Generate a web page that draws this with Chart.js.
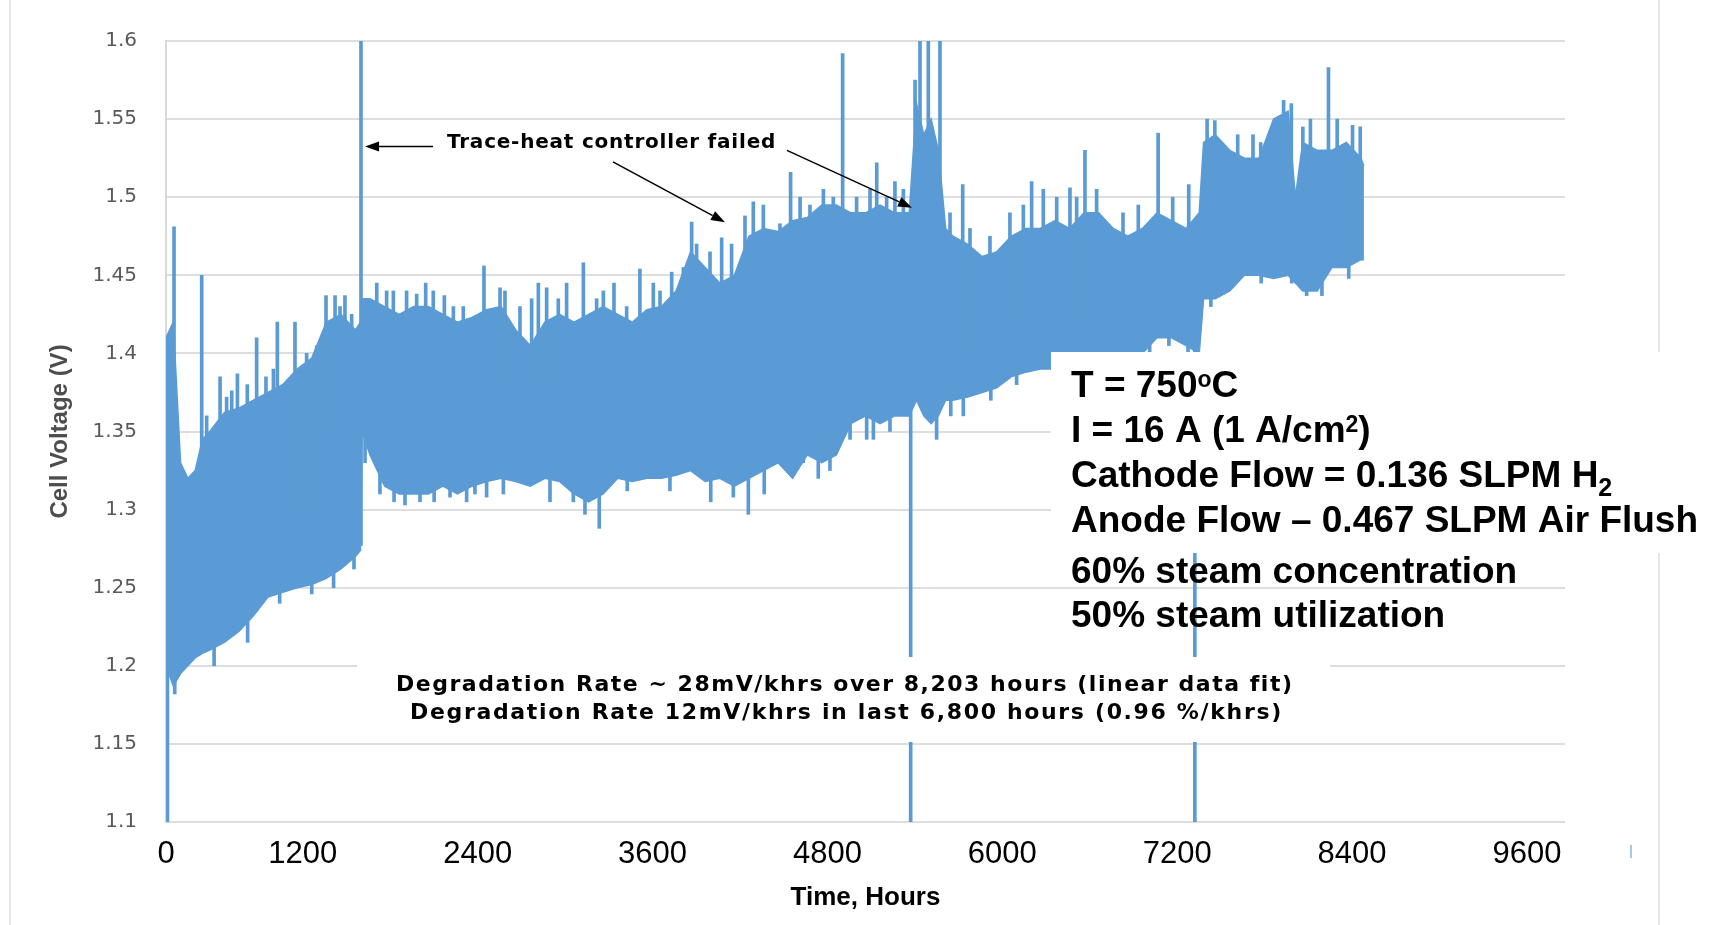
<!DOCTYPE html>
<html>
<head>
<meta charset="utf-8">
<title>Cell Voltage vs Time</title>
<script src="https://cdn.jsdelivr.net/npm/chart.js@4.4.1/dist/chart.umd.min.js"></script>
<style>
  html, body { margin: 0; padding: 0; background: #fff; }
  #wrap { width: 1715px; height: 925px; position: relative; }
</style>
</head>
<body>
<div id="wrap"><canvas id="voltage-chart"></canvas></div>
<script>
// ===== Data =====
// dense band of the voltage trace: upper and lower edge every ~100 h
const HOURS = [0, 50, 100, 150, 200, 250, 300, 400, 500, 600, 700, 800, 900, 1000, 1100, 1200, 1300, 1335, 1345,
  1400, 1500, 1600, 1700, 1800, 1900, 2000, 2100, 2200, 2300, 2400, 2500, 2600, 2700, 2800, 2900, 3000,
  3100, 3200, 3300, 3400, 3500, 3600, 3700, 3800, 3900, 4000, 4100, 4200, 4300, 4400, 4500, 4600, 4700,
  4800, 4900, 5000, 5100, 5150, 5200, 5250, 5300, 5350, 5400, 5500, 5600, 5700, 5800, 5900, 6000, 6100,
  6200, 6300, 6400, 6500, 6600, 6700, 6800, 6900, 7000, 7090, 7120, 7200, 7300, 7400, 7500, 7600, 7700,
  7750, 7800, 7900, 8000, 8100, 8200, 8220];
const V_HIGH = [1.41, 1.42, 1.33, 1.32, 1.325, 1.345, 1.35, 1.362, 1.365, 1.37, 1.375, 1.38, 1.39, 1.397, 1.42, 1.425, 1.415, 1.42, 1.435,
  1.435, 1.43, 1.425, 1.43, 1.43, 1.425, 1.42, 1.423, 1.428, 1.43, 1.415, 1.405, 1.42, 1.425, 1.42, 1.425, 1.43,
  1.425, 1.42, 1.428, 1.43, 1.44, 1.465, 1.455, 1.445, 1.45, 1.475, 1.48, 1.478, 1.485, 1.487, 1.495, 1.495, 1.49,
  1.49, 1.495, 1.49, 1.49, 1.56, 1.54, 1.55, 1.53, 1.48, 1.475, 1.47, 1.462, 1.465, 1.475, 1.48, 1.48, 1.485,
  1.48, 1.49, 1.49, 1.48, 1.475, 1.48, 1.49, 1.485, 1.48, 1.49, 1.535, 1.54, 1.53, 1.525, 1.525, 1.55, 1.555,
  1.50, 1.535, 1.53, 1.53, 1.535, 1.525, 1.52];
const V_LOW = [1.20, 1.187, 1.195, 1.20, 1.205, 1.208, 1.21, 1.215, 1.222, 1.232, 1.244, 1.247, 1.25, 1.252, 1.256, 1.262, 1.27, 1.274, 1.35,
  1.335, 1.315, 1.31, 1.31, 1.31, 1.315, 1.31, 1.315, 1.318, 1.32, 1.318, 1.315, 1.32, 1.318, 1.31, 1.305, 1.31,
  1.32, 1.318, 1.32, 1.32, 1.322, 1.325, 1.318, 1.32, 1.315, 1.32, 1.325, 1.33, 1.32, 1.335, 1.33, 1.335, 1.355,
  1.36, 1.355, 1.36, 1.36, 1.37, 1.36, 1.355, 1.36, 1.37, 1.37, 1.372, 1.375, 1.378, 1.385, 1.388, 1.39, 1.39,
  1.39, 1.39, 1.39, 1.39, 1.395, 1.40, 1.41, 1.41, 1.405, 1.40, 1.435, 1.435, 1.44, 1.45, 1.45, 1.448, 1.45,
  1.445, 1.44, 1.44, 1.455, 1.455, 1.46, 1.46];

// thin upward excursions poking out of the band (hour, from V, to V)
const UP_HOURS = [55, 245, 279, 371, 416, 451, 490, 558, 622, 686, 737, 764, 828, 885, 965, 1034, 1098, 1160, 1194, 1228,
  1274, 1338, 1446, 1514, 1560, 1651, 1720, 1782, 1834, 1910, 1972, 2040, 2182, 2292, 2326, 2429, 2509, 2555,
  2612, 2692, 2749, 2864, 2955, 3001, 3074, 3161, 3252, 3344, 3390, 3470, 3550, 3607, 3641, 3733, 3813, 3881,
  3973, 4030, 4099, 4156, 4213, 4286, 4351, 4419, 4511, 4579, 4643, 4739, 4831, 4877, 4945, 5002, 5060, 5140,
  5174, 5231, 5265, 5311, 5380, 5467, 5517, 5654, 5791, 5883, 5940, 6020, 6112, 6203, 6249, 6306, 6386, 6567,
  6672, 6808, 6908, 7018, 7144, 7197, 7354, 7459, 7512, 7669, 7722, 7801, 7853, 7977, 8037, 8142, 8195];
const UP_FROM = [1.30, 1.30, 1.30, 1.30, 1.30, 1.30, 1.30, 1.30, 1.30, 1.30, 1.30, 1.30, 1.30, 1.30, 1.30, 1.30, 1.35, 1.35, 1.35, 1.35,
  1.35, 1.277, 1.38, 1.38, 1.38, 1.38, 1.38, 1.38, 1.38, 1.38, 1.38, 1.38, 1.38, 1.38, 1.38, 1.38, 1.38, 1.38,
  1.38, 1.38, 1.38, 1.38, 1.38, 1.38, 1.38, 1.38, 1.38, 1.38, 1.38, 1.38, 1.40, 1.40, 1.40, 1.40, 1.40, 1.40,
  1.40, 1.40, 1.40, 1.40, 1.40, 1.40, 1.40, 1.40, 1.40, 1.40, 1.40, 1.40, 1.40, 1.40, 1.40, 1.40, 1.40, 1.40,
  1.40, 1.40, 1.40, 1.40, 1.40, 1.40, 1.40, 1.40, 1.42, 1.42, 1.42, 1.42, 1.42, 1.42, 1.42, 1.42, 1.42, 1.42,
  1.42, 1.42, 1.42, 1.42, 1.46, 1.46, 1.46, 1.46, 1.46, 1.46, 1.46, 1.46, 1.46, 1.46, 1.46, 1.46, 1.46];
const UP_TO = [1.481, 1.45, 1.36, 1.385, 1.372, 1.376, 1.387, 1.38, 1.41, 1.385, 1.39, 1.42, 1.38, 1.42, 1.40, 1.405, 1.437, 1.437, 1.43, 1.437,
  1.425, 1.62, 1.445, 1.44, 1.44, 1.44, 1.438, 1.445, 1.44, 1.437, 1.43, 1.43, 1.456, 1.442, 1.44, 1.43, 1.435, 1.445,
  1.442, 1.435, 1.445, 1.458, 1.435, 1.44, 1.445, 1.43, 1.454, 1.445, 1.44, 1.452, 1.455, 1.484, 1.47, 1.465, 1.474, 1.47,
  1.488, 1.497, 1.495, 1.478, 1.483, 1.516, 1.50, 1.495, 1.505, 1.50, 1.592, 1.50, 1.505, 1.522, 1.50, 1.51, 1.505, 1.575,
  1.62, 1.62, 1.537, 1.62, 1.49, 1.508, 1.48, 1.475, 1.49, 1.495, 1.51, 1.505, 1.50, 1.506, 1.50, 1.53, 1.505, 1.49,
  1.495, 1.541, 1.50, 1.508, 1.55, 1.549, 1.54, 1.54, 1.535, 1.562, 1.56, 1.545, 1.55, 1.583, 1.55, 1.546, 1.545];

// thin downward excursions (hour, from V, to V)
const DOWN_HOURS = [10, 60, 330, 560, 780, 1000, 1150, 1290, 1366, 1468, 1565, 1640, 1743, 1840, 1949, 2063, 2120,
  2200, 2315, 2635, 2795, 2875, 2973, 3165, 3458, 3738, 3893, 3996, 4105, 4373, 4476, 4556, 4694, 4808, 4854,
  4968, 5110, 5288, 5385, 5471, 5660, 5837, 6750, 6882, 7013, 7060, 7170, 7328, 7515, 7725, 7827, 7932, 8116];
const DOWN_FROM = [1.10, 1.182, 1.20, 1.215, 1.24, 1.246, 1.25, 1.262, 1.33, 1.31, 1.305, 1.303, 1.305, 1.305, 1.308, 1.305, 1.31,
  1.308, 1.31, 1.305, 1.305, 1.297, 1.288, 1.312, 1.312, 1.305, 1.308, 1.297, 1.31, 1.33, 1.32, 1.325, 1.345, 1.345, 1.345,
  1.35, 1.10, 1.345, 1.36, 1.36, 1.37, 1.38, 1.40, 1.405, 1.40, 1.10, 1.43, 1.445, 1.445, 1.445, 1.437, 1.437, 1.448];
const DOWN_TO = [1.34, 1.22, 1.23, 1.25, 1.27, 1.28, 1.28, 1.29, 1.36, 1.34, 1.33, 1.33, 1.33, 1.33, 1.33, 1.33, 1.33,
  1.33, 1.34, 1.33, 1.33, 1.33, 1.33, 1.34, 1.34, 1.33, 1.33, 1.33, 1.34, 1.35, 1.35, 1.35, 1.37, 1.37, 1.37,
  1.37, 1.40, 1.37, 1.38, 1.38, 1.39, 1.40, 1.42, 1.42, 1.42, 1.42, 1.45, 1.46, 1.46, 1.46, 1.455, 1.455, 1.465];

const X_TICKS = [0, 1200, 2400, 3600, 4800, 6000, 7200, 8400, 9600];
const Y_TICKS = [1.1, 1.15, 1.2, 1.25, 1.3, 1.35, 1.4, 1.45, 1.5, 1.55, 1.6];

// the printed hour labels sit this many hours left of the plot grid
const X_LABEL_SHIFT = 261;

const BLUE = '#5B9BD5';
const GRID = '#dedede';

// ===== Annotations =====
const ARROWS = [
  { from: [1832, 1.5325], to: [1366, 1.5325] },
  { from: [3067, 1.5226], to: [3836, 1.484] },
  { from: [4261, 1.530],  to: [5119, 1.4933] },
];

const CONDITIONS = [
  [{ t: 'T = 750' }, { t: 'o', sup: true }, { t: 'C' }],
  [{ t: 'I = 16 A (1 A/cm' }, { t: '2', sup: true }, { t: ')' }],
  [{ t: 'Cathode Flow = 0.136 SLPM H' }, { t: '2', sub: true }],
  [{ t: 'Anode Flow \u2013 0.467 SLPM Air Flush' }],
  [{ t: '60% steam concentration' }],
  [{ t: '50% steam utilization' }],
];
const COND_BASELINES = [397, 442, 487, 532, 583, 627];

const DEGRADATION = [
  'Degradation Rate ~ 28mV/khrs over 8,203 hours (linear data fit)',
  'Degradation Rate 12mV/khrs in last 6,800 hours (0.96 %/khrs)',
];

const NOTE_FONT = '"DejaVu Sans", sans-serif';
const COND_FONT = '"Liberation Sans", Arial, sans-serif';

// draw text spread out to a given width (the source text is letter-spaced)
function spacedText(ctx, text, left, y, width) {
  if ('letterSpacing' in ctx) ctx.letterSpacing = '0px';
  const w = ctx.measureText(text).width;
  if ('letterSpacing' in ctx && width > w) {
    ctx.letterSpacing = ((width - w) / text.length).toFixed(2) + 'px';
    ctx.fillText(text, left, y);
    ctx.letterSpacing = '0px';
  } else {
    ctx.save();
    ctx.translate(left, y);
    ctx.scale(width / w, 1);
    ctx.fillText(text, 0, 0);
    ctx.restore();
  }
}

function drawArrow(ctx, x1, y1, x2, y2) {
  const a = Math.atan2(y2 - y1, x2 - x1);
  const len = 14, half = 5;
  const bx = x2 - len * Math.cos(a), by = y2 - len * Math.sin(a);
  ctx.beginPath();
  ctx.moveTo(x1, y1);
  ctx.lineTo(bx, by);
  ctx.stroke();
  ctx.beginPath();
  ctx.moveTo(x2, y2);
  ctx.lineTo(bx + half * Math.sin(a), by - half * Math.cos(a));
  ctx.lineTo(bx - half * Math.sin(a), by + half * Math.cos(a));
  ctx.closePath();
  ctx.fill();
}

const pagePlugin = {
  id: 'page',
  beforeDraw(chart) {
    const ctx = chart.ctx;
    ctx.save();
    ctx.fillStyle = '#fff';
    ctx.fillRect(0, 0, chart.width, chart.height);
    // slide frame lines
    ctx.strokeStyle = '#e6e6e6';
    ctx.lineWidth = 2;
    ctx.beginPath();
    ctx.moveTo(10, 0); ctx.lineTo(10, chart.height);
    ctx.moveTo(1659, 0); ctx.lineTo(1659, chart.height);
    ctx.stroke();
    // stray mark left on the slide
    ctx.strokeStyle = '#a9c8e8';
    ctx.beginPath();
    ctx.moveTo(1631, 845); ctx.lineTo(1631, 858);
    ctx.stroke();
    ctx.restore();
  },
  afterDraw(chart) {
    const ctx = chart.ctx;
    const xs = chart.scales.x, ys = chart.scales.y;
    ctx.save();

    // arrows + label for the trace-heat events
    ctx.strokeStyle = '#000';
    ctx.fillStyle = '#000';
    ctx.lineWidth = 1.5;
    ARROWS.forEach(a => {
      drawArrow(ctx,
        xs.getPixelForValue(a.from[0]), ys.getPixelForValue(a.from[1]),
        xs.getPixelForValue(a.to[0]), ys.getPixelForValue(a.to[1]));
    });
    ctx.font = `bold 20px ${NOTE_FONT}`;
    ctx.textBaseline = 'middle';
    ctx.textAlign = 'left';
    spacedText(ctx, 'Trace-heat controller failed', 447, 143, 329);

    // degradation note, white box behind
    ctx.fillStyle = '#fff';
    ctx.fillRect(357, 657, 973, 85);
    ctx.fillStyle = '#000';
    ctx.textBaseline = 'alphabetic';
    ctx.font = `bold 22px ${NOTE_FONT}`;
    spacedText(ctx, DEGRADATION[0], 396, 691, 897);
    spacedText(ctx, DEGRADATION[1], 410, 719, 873);

    // test conditions
    ctx.fillStyle = '#fff';
    ctx.fillRect(1051, 352, 664, 201);
    ctx.fillStyle = '#000';
    CONDITIONS.forEach((runs, i) => {
      let x = 1071;
      runs.forEach(r => {
        const size = r.sup ? 23 : r.sub ? 25 : 37;
        const dy = r.sup ? -10 : r.sub ? 9 : 0;
        ctx.font = `bold ${size}px ${COND_FONT}`;
        ctx.fillText(r.t, x, COND_BASELINES[i] + dy);
        x += ctx.measureText(r.t).width;
      });
    });
    ctx.restore();
  }
};

function spikeSet(label, hours, from, to) {
  return {
    type: 'bar',
    label,
    data: hours.map((h, i) => ({ x: h, y: [from[i], to[i]] })),
    backgroundColor: BLUE,
    borderWidth: 0,
    barThickness: 3,
    grouped: false,
    order: 1,
  };
}

const ctx = document.getElementById('voltage-chart');

new Chart(ctx, {
  data: {
    datasets: [
      {
        type: 'line',
        label: 'upper',
        data: HOURS.map((h, i) => ({ x: h, y: V_HIGH[i] })),
        borderColor: BLUE,
        borderWidth: 1.5,
        pointRadius: 0,
        fill: false,
        tension: 0,
        order: 2,
      },
      {
        type: 'line',
        label: 'lower',
        data: HOURS.map((h, i) => ({ x: h, y: V_LOW[i] })),
        borderColor: BLUE,
        backgroundColor: BLUE,
        borderWidth: 1.5,
        pointRadius: 0,
        fill: '-1',
        tension: 0,
        order: 2,
      },
      spikeSet('up', UP_HOURS, UP_FROM, UP_TO),
      spikeSet('down', DOWN_HOURS, DOWN_FROM, DOWN_TO),
    ]
  },
  options: {
    responsive: true,
    maintainAspectRatio: false,
    animation: false,
    layout: { padding: { left: 0, right: 150, top: 37, bottom: 0 } },
    plugins: {
      legend: { display: false },
      tooltip: { enabled: false },
    },
    scales: {
      x: {
        type: 'linear',
        display: false,
        min: 0, max: 9600,
        offset: false,
      },
      xLabels: {
        type: 'linear',
        position: 'bottom',
        min: X_LABEL_SHIFT, max: 9600 + X_LABEL_SHIFT,
        offset: false,
        grid: { display: false, drawTicks: false },
        border: { display: false },
        afterBuildTicks: s => { s.ticks = X_TICKS.map(v => ({ value: Math.max(v, X_LABEL_SHIFT) })); },
        afterFit: s => { s.height = 103; },
        ticks: {
          autoSkip: false,
          maxRotation: 0,
          padding: 14,
          color: '#000',
          font: { family: COND_FONT, size: 31 },
          callback: (v, i) => String(X_TICKS[i]),
        },
        title: {
          display: true,
          text: 'Time, Hours',
          color: '#000',
          font: { family: COND_FONT, size: 26, weight: 'bold' },
          padding: { top: 0, bottom: 12 },
        },
      },
      y: {
        type: 'linear',
        min: 1.1, max: 1.6,
        afterBuildTicks: s => { s.ticks = Y_TICKS.map(v => ({ value: v })); },
        afterFit: s => { s.width = 166; },
        grid: { color: GRID, lineWidth: 2, drawTicks: false },
        border: { display: true, color: '#d9d9d9', width: 2 },
        ticks: {
          padding: 29,
          color: '#595959',
          font: { family: '"DejaVu Sans", sans-serif', size: 20 },
          callback: (v, i) => String(Y_TICKS[i]),
        },
        title: {
          display: true,
          text: 'Cell Voltage (V)',
          color: '#4d4d4d',
          font: { family: COND_FONT, size: 24, weight: 'bold' },
          padding: { top: 46, bottom: 0 },
        },
      },
    },
  },
  plugins: [pagePlugin],
});
</script>
</body>
</html>
